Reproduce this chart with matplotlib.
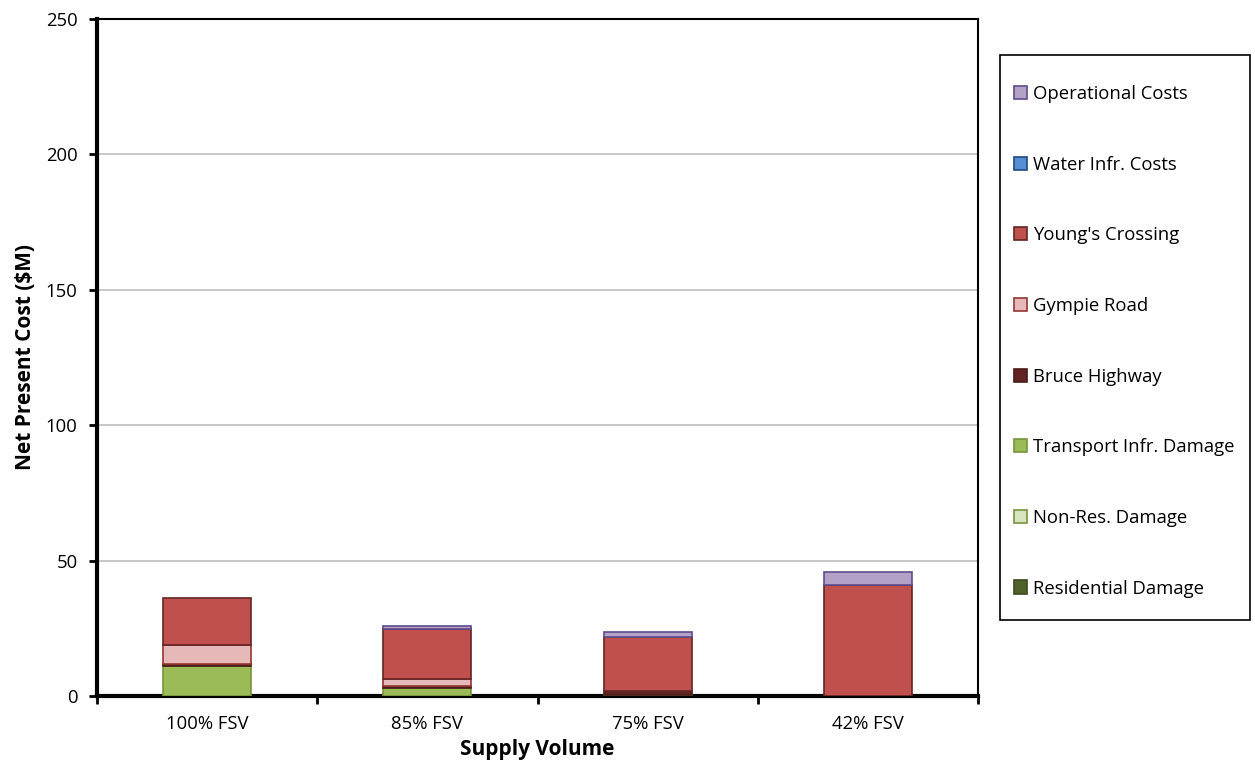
import numpy as np
import matplotlib
matplotlib.use("Agg")
import matplotlib.pyplot as plt
from matplotlib.patches import Rectangle

# Data ($M)
categories = ["100% FSV", "85% FSV", "75% FSV", "42% FSV"]
residential = [0.0, 0.0, 0.0, 0.0]
non_res = [0.0, 0.0, 0.0, 0.0]
transport = [11.0, 2.8, 0.5, 0.0]
bruce = [1.0, 0.8, 1.2, 0.0]
gympie = [6.8, 2.6, 0.0, 0.0]
youngs = [17.3, 18.4, 20.0, 41.1]
water = [0.0, 0.0, 0.0, 0.0]
operational = [0.0, 1.2, 1.8, 4.8]

series = [
    ("Residential Damage", residential, "#4F6228", "#3B4A1E"),
    ("Non-Res. Damage", non_res, "#D7E4BD", "#77933C"),
    ("Transport Infr. Damage", transport, "#9BBB59", "#77933C"),
    ("Bruce Highway", bruce, "#632523", "#4A1B1A"),
    ("Gympie Road", gympie, "#E6B9B8", "#953735"),
    ("Young's Crossing", youngs, "#C0504D", "#632523"),
    ("Water Infr. Costs", water, "#558ED5", "#1F497D"),
    ("Operational Costs", operational, "#B3A2C7", "#5F4B8B"),
]

plt.rcParams['font.family'] = ['Open Sans', 'DejaVu Sans']

W, H = 1255, 765
fig = plt.figure(figsize=(W / 100, H / 100), dpi=100)
ax = fig.add_axes([97 / W, 1 - 696 / H, 881 / W, 677 / H])

x = np.arange(len(categories))
bottom = np.zeros(len(categories))
handles = []
for name, vals, fc, ec in series:
    vals = np.array(vals)
    # no outline for empty segments
    lw = np.where(vals > 0, 1.2, 0.0)
    ax.bar(x, vals, width=0.4, bottom=bottom, color=fc, edgecolor=ec,
           linewidth=lw, zorder=3)
    handles.append(Rectangle((0, 0), 1, 1, facecolor=fc, edgecolor=ec, linewidth=1.2))
    bottom += vals

ax.set_xlim(-0.5, len(categories) - 0.5)
ax.set_ylim(0, 250)
ax.set_yticks(np.arange(0, 251, 50))
ax.yaxis.grid(True, color="#BFBFBF", linewidth=1.2, zorder=0)
ax.set_axisbelow(True)

ax.set_xticks(x)
ax.set_xticklabels(categories, fontsize=13.3)
ax.set_xticks(np.arange(-0.5, len(categories), 1), minor=True)
ax.tick_params(axis="x", which="major", length=0, pad=14)
ax.tick_params(axis="x", which="minor", length=6, width=2, direction="out")
ax.tick_params(axis="y", length=6, width=2, labelsize=13.3, pad=8)

for side in ["left", "bottom"]:
    ax.spines[side].set_linewidth(3)
for side in ["top", "right"]:
    ax.spines[side].set_linewidth(1.5)

ax.set_xlabel("Supply Volume", fontsize=15, fontweight="bold", labelpad=4)
ax.set_ylabel("Net Present Cost ($M)", fontsize=15, fontweight="bold", labelpad=7)

# legend frame drawn separately so the spacing can match
fig.patches.append(Rectangle((1000 / W, 1 - 620 / H), 250 / W, 565 / H,
                             transform=fig.transFigure, facecolor="white",
                             edgecolor="black", linewidth=1.2, zorder=1))
leg = fig.legend(handles[::-1], [s[0] for s in series][::-1],
                 loc="upper left", bbox_to_anchor=(1014 / W, 1 - 85 / H),
                 bbox_transform=fig.transFigure, fontsize=13.3,
                 frameon=False, handlelength=0.72, handleheight=0.72,
                 handletextpad=0.3, labelspacing=2.85, borderpad=0,
                 borderaxespad=0)

fig.savefig("out.png", dpi=100)
